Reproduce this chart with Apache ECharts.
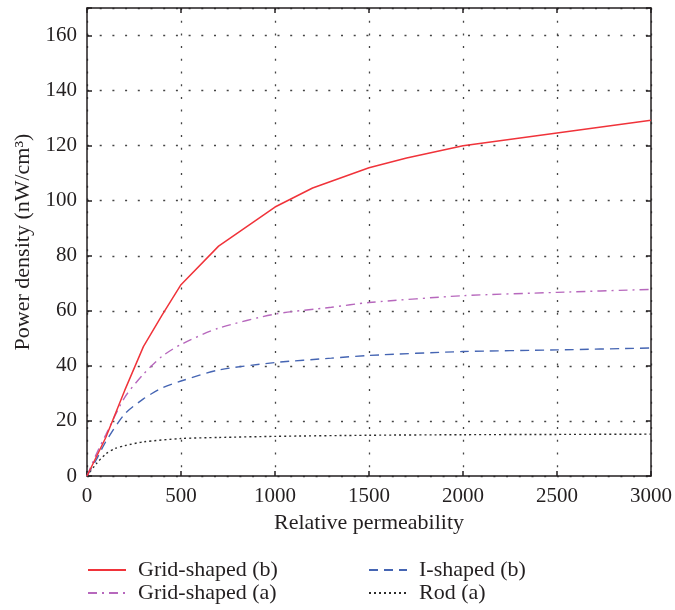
<!DOCTYPE html>
<html>
<head>
<meta charset="utf-8">
<script src="https://cdn.jsdelivr.net/npm/echarts@6/dist/echarts.min.js"></script>
<style>
  html, body { margin: 0; padding: 0; background: #ffffff; }
  #chart { width: 675px; height: 610px; }
</style>
</head>
<body>
<div id="chart"></div>
<script>
// Relative permeability (x) against power density in nW/cm^3 (y)
const gridBX = [0, 50, 100, 200, 300, 400, 500, 700, 1000, 1200, 1500, 1700, 2000, 3000];
const gridBY = [0, 7, 14, 31, 47, 58.5, 69.5, 83.5, 97.7, 104.6, 112, 115.5, 120, 129.2];

const gridAX = [0, 50, 100, 200, 300, 400, 500, 700, 1000, 1300, 1500, 2000, 2500, 3000];
const gridAY = [0, 8, 15, 28.5, 37, 43.5, 47.8, 53.7, 58.8, 61.3, 63, 65.5, 66.7, 67.8];

const iShapedX = [0, 50, 100, 200, 300, 400, 500, 700, 1000, 1300, 1500, 2000, 2500, 3000];
const iShapedY = [0, 6, 12.5, 22.5, 28, 32, 34.5, 38.5, 41.2, 42.8, 43.8, 45.2, 45.8, 46.5];

const rodX = [0, 50, 100, 150, 200, 300, 500, 700, 1000, 1500, 2000, 2500, 3000];
const rodY = [0, 4.5, 8, 10, 11, 12.4, 13.6, 14, 14.4, 14.8, 15, 15.1, 15.2];

const xTicks = { min: 0, max: 3000, interval: 500 };
const yTicks = { min: 0, max: 170, interval: 20 };

const seriesNames = ['Grid-shaped (b)', 'Grid-shaped (a)', 'I-shaped (b)', 'Rod (a)'];

const pair = (xs, ys) => xs.map((x, i) => [x, ys[i]]);

const FONT = 'Liberation Serif';
const INK = '#231f20';

const chart = echarts.init(document.getElementById('chart'), null, { renderer: 'canvas' });

const frameLine = { show: true, onZero: false, lineStyle: { color: INK, width: 1.5 } };
const innerTick = { show: true, inside: true, length: 5, lineStyle: { color: INK, width: 1.5 } };
const dotted = { show: true, lineStyle: { color: '#444', width: 1.3, type: [2, 10.7] } };

const legendText = { fontFamily: FONT, fontSize: 22, color: INK, lineHeight: 22, padding: [0, 0, 0, 7] };
// legend shows only the line sample, no marker
const hiddenMarker = { color: 'rgba(0,0,0,0)', borderColor: 'rgba(0,0,0,0)', borderWidth: 0 };

const legendBase = {
  orient: 'vertical', top: 559, padding: 0, height: 51,
  itemWidth: 38, itemHeight: 14, itemGap: 1,
  textStyle: legendText, itemStyle: hiddenMarker
};

chart.setOption({
  animation: false,
  backgroundColor: '#ffffff',
  grid: { left: 87, right: 24, top: 8, bottom: 134 },
  legend: [
    { ...legendBase, data: [seriesNames[0], seriesNames[1]], left: 87 },
    { ...legendBase, data: [seriesNames[2], seriesNames[3]], left: 368 }
  ],
  xAxis: [
    {
      type: 'value', position: 'bottom', ...xTicks,
      name: 'Relative permeability', nameLocation: 'middle', nameGap: 35,
      nameTextStyle: { fontFamily: FONT, fontSize: 22, color: INK },
      axisLine: frameLine, axisTick: innerTick,
      axisLabel: { fontFamily: FONT, fontSize: 21, color: INK, margin: 10, formatter: v => String(v) },
      splitLine: dotted
    },
    {
      type: 'value', position: 'top', ...xTicks,
      axisLine: frameLine, axisTick: innerTick,
      axisLabel: { show: false }, splitLine: { show: false }
    }
  ],
  yAxis: [
    {
      type: 'value', position: 'left', ...yTicks,
      name: 'Power density (nW/cm³)', nameLocation: 'middle', nameGap: 48,
      nameTextStyle: { fontFamily: FONT, fontSize: 22, color: INK },
      axisLine: frameLine, axisTick: innerTick,
      axisLabel: {
        fontFamily: FONT, fontSize: 21, color: INK, margin: 10,
        formatter: v => (v <= 160 ? String(v) : '')
      },
      splitLine: dotted
    },
    {
      type: 'value', position: 'right', ...yTicks,
      axisLine: frameLine, axisTick: innerTick,
      axisLabel: { show: false }, splitLine: { show: false }
    }
  ],
  series: [
    {
      name: seriesNames[0], type: 'line', symbol: 'none',
      data: pair(gridBX, gridBY),
      lineStyle: { color: '#f0333a', width: 1.5, type: 'solid' },
      itemStyle: { color: '#f0333a' }, z: 5
    },
    {
      name: seriesNames[1], type: 'line', symbol: 'none', smooth: 0.25,
      data: pair(gridAX, gridAY),
      lineStyle: { color: '#b768bd', width: 1.4, type: [9, 5, 2, 5] },
      itemStyle: { color: '#b768bd' }, z: 4
    },
    {
      name: seriesNames[2], type: 'line', symbol: 'none', smooth: 0.25,
      data: pair(iShapedX, iShapedY),
      lineStyle: { color: '#4565b3', width: 1.4, type: [9, 6] },
      itemStyle: { color: '#4565b3' }, z: 3
    },
    {
      name: seriesNames[3], type: 'line', symbol: 'none', smooth: 0.25,
      data: pair(rodX, rodY),
      lineStyle: { color: '#2b2b2b', width: 1.4, type: [2, 3] },
      itemStyle: { color: '#2b2b2b' }, z: 2
    }
  ]
});
</script>
</body>
</html>
